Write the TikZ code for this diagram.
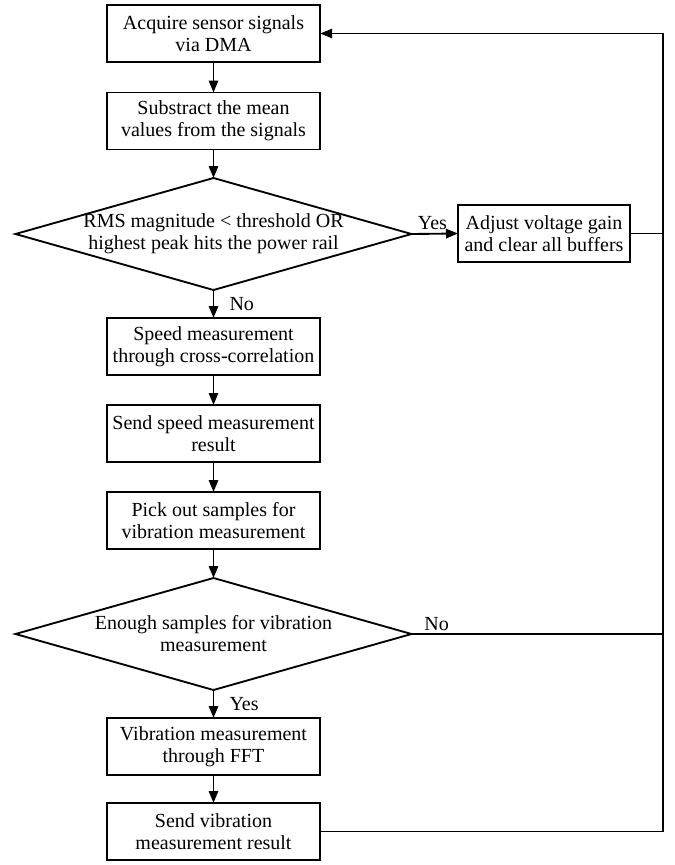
\documentclass[tikz,border=0pt]{standalone}
\usepackage{fontspec}
\setmainfont{Liberation Serif}
\usetikzlibrary{shapes.geometric,arrows.meta}
\begin{document}
\begin{tikzpicture}[x=0.75pt,y=-0.75pt,
  font=\fontsize{15}{16.5}\selectfont,
  box/.style={draw,line width=1.4pt,minimum width=160pt,minimum height=42.75pt,
    align=center,inner sep=1pt,outer sep=0pt},
  decision/.style={draw,diamond,aspect=3.54,line width=1.4pt,minimum width=297pt,minimum height=84pt,
    align=center,inner sep=-10pt,outer sep=0pt},
  line/.style={line width=1.4pt},
  arr/.style={line width=1.4pt,-{Triangle[length=9pt,width=7pt]}}]
\useasboundingbox (0,0) rectangle (675,865);

% main column
\node[box] (acq) at (213.5,33.5) {Acquire sensor signals\\via DMA};
\node[box] (sub) at (213.5,121) {Substract the mean\\values from the signals};
\node[decision] (rms) at (213.5,234) {RMS magnitude < threshold OR\\highest peak hits the power rail};
\node[box,minimum width=129pt] (adj) at (544,233.5) {Adjust voltage gain\\and clear all buffers};
\node[box] (spd) at (213.5,346.5) {Speed measurement\\through cross-correlation};
\node[box] (sendspd) at (213.5,433.5) {Send speed measurement\\result};
\node[box] (pick) at (213.5,520.5) {Pick out samples for\\vibration measurement};
\node[decision] (enough) at (213.5,634) {Enough samples for vibration\\measurement};
\node[box] (vib) at (213.5,746.5) {Vibration measurement\\through FFT};
\node[box] (sendvib) at (213.5,831.5) {Send vibration\\measurement result};

\coordinate (rail) at (663,33.5);

% arrows
\draw[arr] (acq) -- (sub);
\draw[arr] (sub) -- (rms);
\draw[arr] (rms.east) -- (adj.west) node[pos=0.45,above=1pt,inner sep=1pt]{Yes};
\draw[arr] (rms.south) -- (spd.north) node[midway,right=8pt]{No};
\draw[arr] (spd) -- (sendspd);
\draw[arr] (sendspd) -- (pick);
\draw[arr] (pick) -- (enough);
\draw[arr] (enough.south) -- (vib.north) node[midway,right=8pt]{Yes};
\draw[arr] (vib) -- (sendvib);

% feedback
\draw[line] (adj.east) -- (adj.east -| rail);
\draw[line] (enough.east) -- (enough.east -| rail) node[pos=0.1,above=1pt,inner sep=1pt]{No};
\draw[arr] (sendvib.east) -| (rail) -- (acq.east);
\end{tikzpicture}
\end{document}
